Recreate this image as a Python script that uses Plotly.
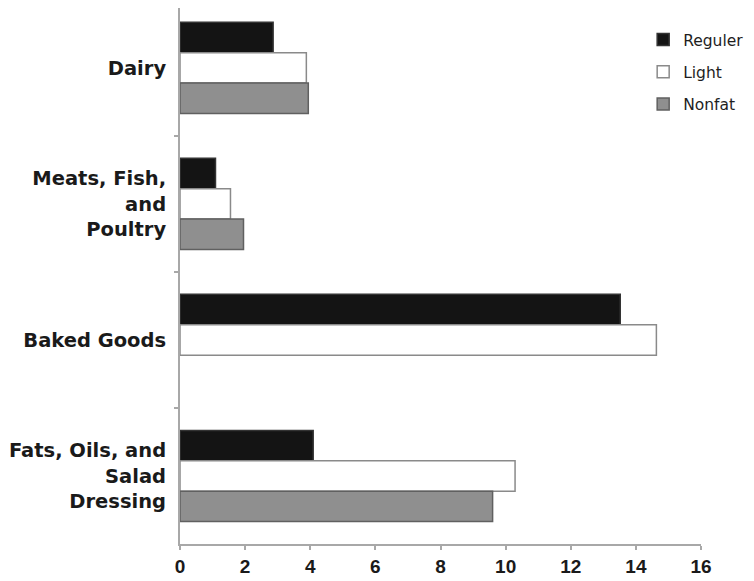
import plotly.graph_objects as go

categories = ["Dairy", "Meats, Fish,<br>and<br>Poultry", "Baked Goods", "Fats, Oils, and<br>Salad<br>Dressing"]
reguler = [2.86, 1.09, 13.52, 4.09]
light = [3.88, 1.55, 14.63, 10.29]
nonfat = [3.94, 1.95, None, 9.60]
x_ticks = [0, 2, 4, 6, 8, 10, 12, 14, 16]

fig = go.Figure()
series = [
    ("Reguler", reguler, "#141414", "#333333"),
    ("Light", light, "#ffffff", "#8a8a8a"),
    ("Nonfat", nonfat, "#8f8f8f", "#606060"),
]
for name, vals, fill, line in series:
    fig.add_trace(go.Bar(
        y=categories, x=vals, name=name, orientation="h",
        marker=dict(color=fill, line=dict(color=line, width=1.5)),
        legendgroup=name,
    ))

fig.update_layout(
    width=746, height=573,
    margin=dict(l=172, r=53, t=0, b=37, autoexpand=False),
    paper_bgcolor="white", plot_bgcolor="white",
    barmode="group", bargap=0.33, bargroupgap=0,
    showlegend=True,
    legend=dict(
        x=0.889, y=0.972, xanchor="left", yanchor="top",
        font=dict(family="DejaVu Sans", size=15.5, color="#1e1e1e"),
        tracegroupgap=9, bgcolor="rgba(0,0,0,0)",
    ),
    xaxis=dict(
        range=[0, 16], tickvals=x_ticks, ticktext=[str(v) for v in x_ticks],
        showgrid=False, zeroline=False, showline=True, automargin=False,
        linecolor="#a8a8a8", linewidth=2,
        ticks="outside", ticklen=4, tickcolor="#a8a8a8", tickwidth=1.5,
        tickfont=dict(family="Liberation Sans", size=19, color="#1a1a1a", weight="bold"),
    ),
    yaxis=dict(
        range=[3.5, -0.44], showgrid=False, zeroline=False, showline=True, automargin=False,
        linecolor="#a8a8a8", linewidth=2,
        ticks="outside", ticklen=4, tickcolor="#a8a8a8", tickwidth=1.5,
        tickson="boundaries", ticklabelstandoff=8,
        tickfont=dict(family="DejaVu Sans", size=19.5, color="#1a1a1a", weight="bold"),
    ),
)

fig.write_html("out.html")
